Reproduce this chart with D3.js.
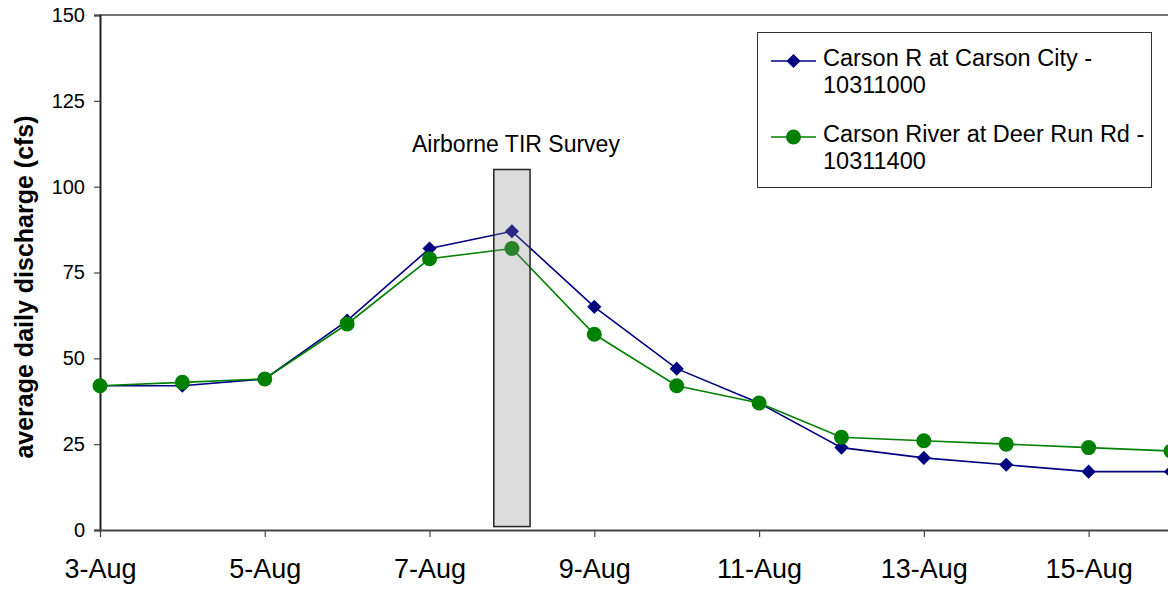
<!DOCTYPE html>
<html>
<head>
<meta charset="utf-8">
<script src="https://cdn.jsdelivr.net/npm/d3@7"></script>
<style>
  body { margin: 0; background: #fff; }
  svg text { font-family: "Liberation Sans", Arial, sans-serif; fill: #000; }
</style>
</head>
<body>
<div class="chartContainer"></div>
<script>
// day of August for each observation
const days = [3, 4, 5, 6, 7, 8, 9, 10, 11, 12, 13, 14, 15, 16];
const carsonCity = [42, 42, 44, 61, 82, 87, 65, 47, 37, 24, 21, 19, 17, 17];
const deerRun = [42, 43, 44, 60, 79, 82, 57, 42, 37, 27, 26, 25, 24, 23];
const xTickDays = [3, 5, 7, 9, 11, 13, 15];
const xTickLabels = ["3-Aug", "5-Aug", "7-Aug", "9-Aug", "11-Aug", "13-Aug", "15-Aug"];
const yTicks = [0, 25, 50, 75, 100, 125, 150];
const seriesNames = ["Carson R at Carson City -|10311000", "Carson River at Deer Run Rd -|10311400"];
const surveyDay = 8;
const surveyTop = 105;

const w = 1168;
const h = 590;

const svg = d3
  .select(".chartContainer")
  .append("svg")
  .attr("width", w)
  .attr("height", h);

const xScale = d3.scaleLinear().domain([3, 16]).range([100, 1171]);
const yScale = d3.scaleLinear().domain([0, 150]).range([530, 15]);

// frame top line
svg
  .append("line")
  .attr("x1", 100)
  .attr("x2", w)
  .attr("y1", yScale(150))
  .attr("y2", yScale(150))
  .attr("stroke", "#444")
  .attr("stroke-width", 1.5);

const yAxis = d3
  .axisLeft(yScale)
  .tickValues(yTicks)
  .tickSize(6)
  .tickPadding(9);
const gy = svg.append("g").attr("transform", "translate(100,0)").call(yAxis);
gy.select(".domain").attr("stroke", "#222").attr("stroke-width", 2);
gy.selectAll(".tick line").attr("stroke", "#444").attr("stroke-width", 1.2);
gy.selectAll(".tick text").style("font-size", "20px");

const xAxis = d3
  .axisBottom(xScale)
  .tickValues(xTickDays)
  .tickFormat((d, i) => xTickLabels[i])
  .tickSize(7)
  .tickSizeOuter(0)
  .tickPadding(22);
const gx = svg.append("g").attr("transform", "translate(0,530)").call(xAxis);
gx.select(".domain").attr("stroke", "#444").attr("stroke-width", 2);
gx.selectAll(".tick line").attr("stroke", "#444").attr("stroke-width", 1.2);
gx.selectAll(".tick text").style("font-size", "27px");

svg
  .append("text")
  .attr("transform", "translate(33," + 287 + ") rotate(-90)")
  .attr("text-anchor", "middle")
  .style("font-size", "25px")
  .style("font-weight", "bold")
  .text("average daily discharge (cfs)");

const line = d3
  .line()
  .x((d, i) => xScale(days[i]))
  .y((d) => yScale(d));

const diamond = d3.symbol().type(d3.symbolSquare).size(100);

// Carson City series
svg
  .append("path")
  .datum(carsonCity)
  .attr("d", line)
  .attr("fill", "none")
  .attr("stroke", "#000080")
  .attr("stroke-width", 1.6);
svg
  .selectAll(".cc")
  .data(carsonCity)
  .enter()
  .append("path")
  .attr("class", "cc")
  .attr("d", diamond)
  .attr("transform", (d, i) => "translate(" + xScale(days[i]) + "," + yScale(d) + ") rotate(45)")
  .attr("fill", "#000080");

// Deer Run series
svg
  .append("path")
  .datum(deerRun)
  .attr("d", line)
  .attr("fill", "none")
  .attr("stroke", "#008000")
  .attr("stroke-width", 1.6);
svg
  .selectAll(".dr")
  .data(deerRun)
  .enter()
  .append("circle")
  .attr("class", "dr")
  .attr("cx", (d, i) => xScale(days[i]))
  .attr("cy", (d) => yScale(d))
  .attr("r", 7.5)
  .attr("fill", "#008000");

// survey bar
svg
  .append("rect")
  .attr("x", xScale(surveyDay - 0.22))
  .attr("width", xScale(surveyDay + 0.22) - xScale(surveyDay - 0.22))
  .attr("y", yScale(surveyTop))
  .attr("height", yScale(1) - yScale(surveyTop))
  .attr("fill", "#8c8c8c")
  .attr("fill-opacity", 0.3)
  .attr("stroke", "#222")
  .attr("stroke-width", 1.5);

svg
  .append("text")
  .attr("x", xScale(surveyDay) + 4)
  .attr("y", 152)
  .attr("text-anchor", "middle")
  .style("font-size", "23px")
  .text("Airborne TIR Survey");

// legend
const legend = svg.append("g");
legend
  .append("rect")
  .attr("x", 757.5)
  .attr("y", 32.5)
  .attr("width", 394)
  .attr("height", 155)
  .attr("fill", "#fff")
  .attr("stroke", "#333")
  .attr("stroke-width", 1);

const colors = ["#000080", "#008000"];
seriesNames.forEach((name, k) => {
  const yy = 61 + k * 76;
  legend
    .append("line")
    .attr("x1", 771)
    .attr("x2", 816)
    .attr("y1", yy)
    .attr("y2", yy)
    .attr("stroke", colors[k])
    .attr("stroke-width", 1.6);
  if (k === 0) {
    legend
      .append("path")
      .attr("d", diamond)
      .attr("transform", "translate(793.5," + yy + ") rotate(45)")
      .attr("fill", colors[k]);
  } else {
    legend
      .append("circle")
      .attr("cx", 793.5)
      .attr("cy", yy)
      .attr("r", 7.5)
      .attr("fill", colors[k]);
  }
  const parts = name.split("|");
  parts.forEach((p, j) => {
    legend
      .append("text")
      .attr("x", 823)
      .attr("y", yy + 5 + j * 27)
      .style("font-size", "23.5px")
      .text(p);
  });
});
</script>
</body>
</html>
